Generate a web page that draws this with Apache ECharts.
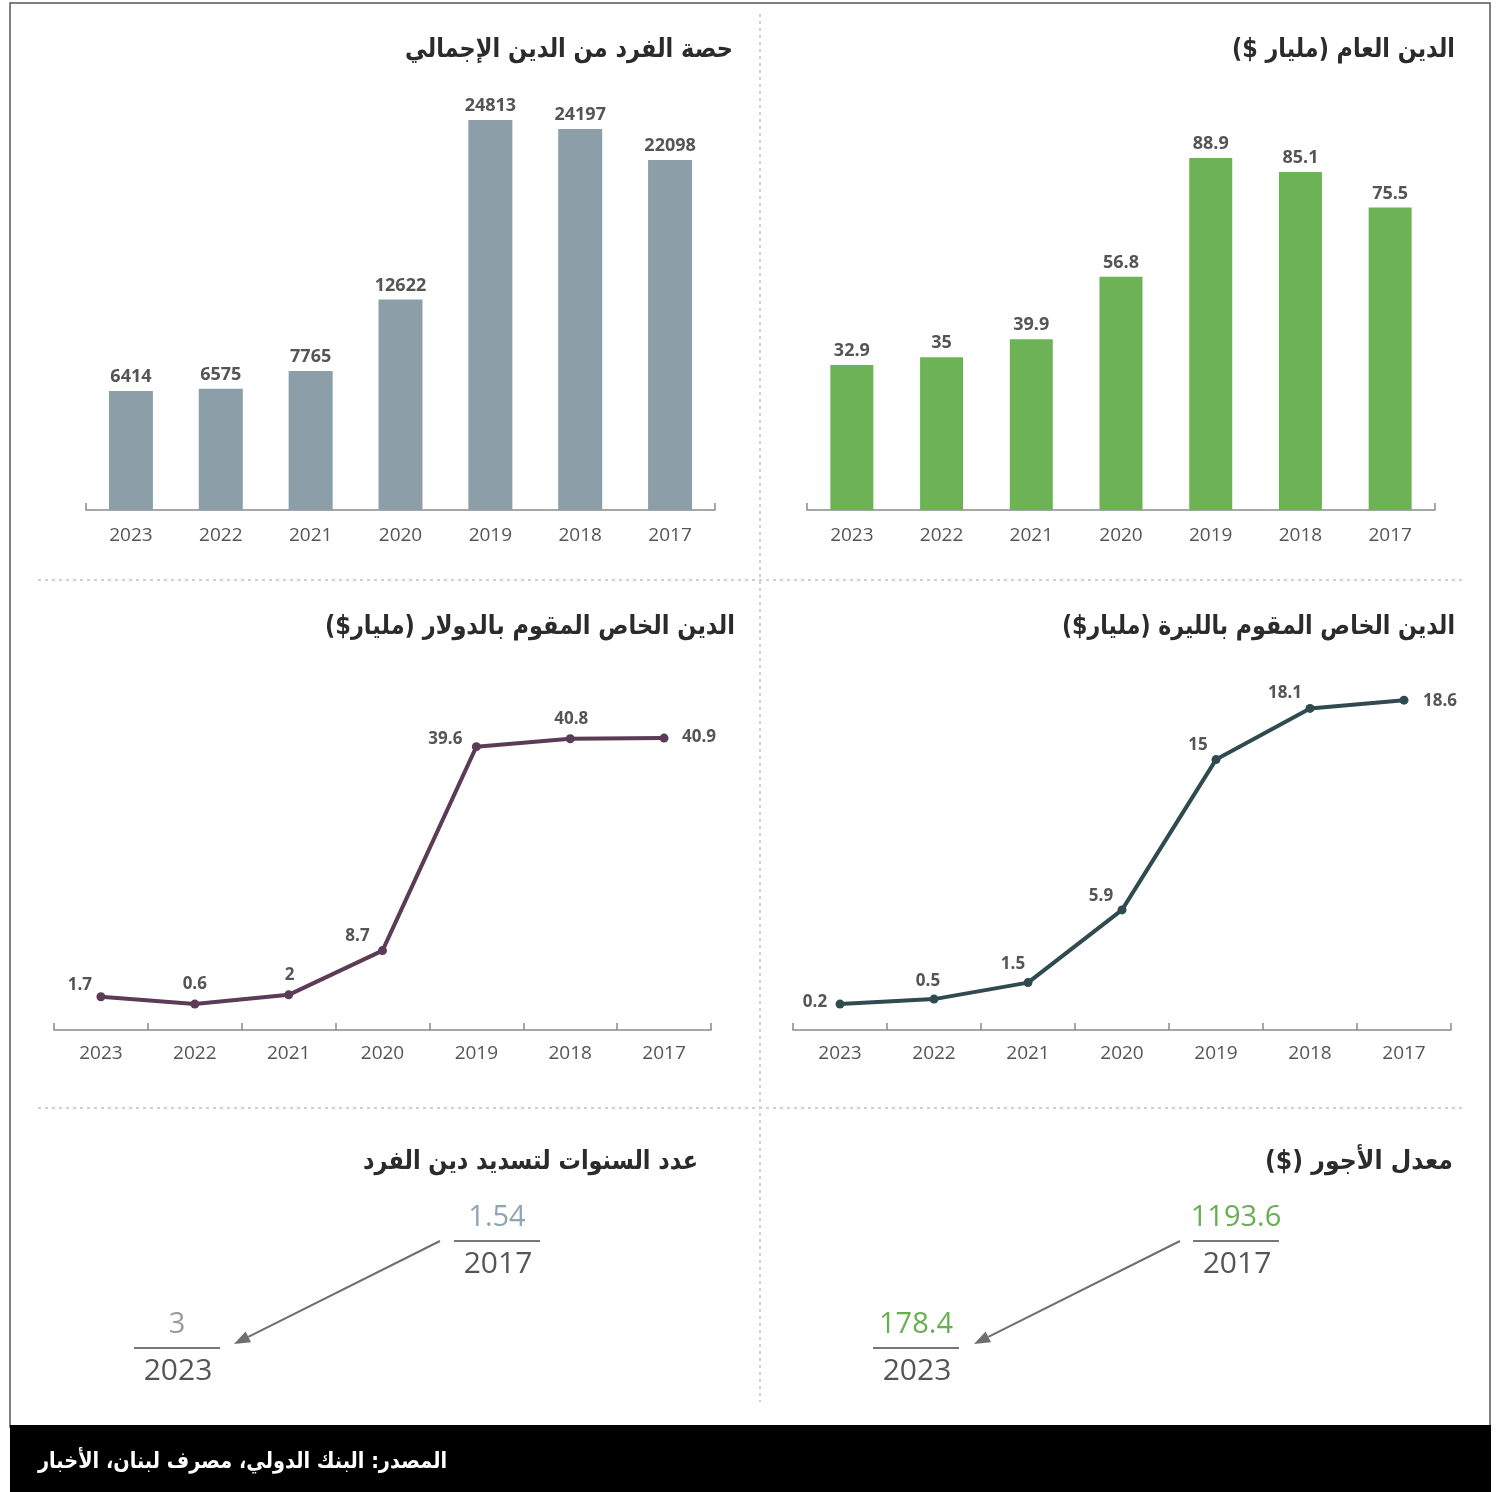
<!DOCTYPE html>
<html>
<head>
<meta charset="utf-8">
<script src="https://cdn.jsdelivr.net/npm/echarts@6/dist/echarts.min.js"></script>
<style>
html,body{margin:0;padding:0;background:#fff;}
#chart{width:1497px;height:1492px;}
</style>
</head>
<body>
<div id="chart"></div>
<script>
// ---------- DATA ----------
const years = ['2023', '2022', '2021', '2020', '2019', '2018', '2017'];
const perCapitaDebt = [6414, 6575, 7765, 12622, 24813, 24197, 22098];
const publicDebt = [32.9, 35, 39.9, 56.8, 88.9, 85.1, 75.5];
const privateDebtUSD = [1.7, 0.6, 2, 8.7, 39.6, 40.8, 40.9];
const privateDebtLBP = [0.2, 0.5, 1.5, 5.9, 15, 18.1, 18.6];
const repayYears = ['2017', '2023'];
const repayValues = [1.54, 3];
const wageYears = ['2017', '2023'];
const wageValues = [1193.6, 178.4];

const titlePerCapita = 'حصة الفرد من الدين الإجمالي';
const titlePublic = 'الدين العام (مليار $)';
const titleUSD = 'الدين الخاص المقوم بالدولار (مليار$)';
const titleLBP = 'الدين الخاص المقوم بالليرة (مليار$)';
const titleRepay = 'عدد السنوات لتسديد دين الفرد';
const titleWage = 'معدل الأجور ($)';
const sourceText = 'المصدر: البنك الدولي، مصرف لبنان، الأخبار';

// ---------- STYLE ----------
const GREEN = '#6db356';
const GREEN_TXT = '#6aae52';
const GRAY_BAR = '#8c9fa9';
const PURPLE = '#5b3b56';
const SLATE = '#2f4b50';
const AXIS = '#8a8a8a';
const TXT = '#555555';
const NUMFONT = '"Open Sans", "Noto Sans", sans-serif';
const ARFONT = '"DejaVu Sans", sans-serif';

// label offsets for line points (style only)
const usdLabelOffsets = [[-21, -12], [0, -20], [1, -20], [-25, -14], [-31, -8], [1, -20], [35, -1]];
const lbpLabelOffsets = [[-25, -2], [-6, -18], [-15, -18], [-21, -14], [-18, -14], [-25, -15], [36, 1]];

const RLM = '\u200F';
const measureCtx = document.createElement('canvas').getContext('2d');
function fitScale(text, font, target) {
  measureCtx.font = font;
  const w = measureCtx.measureText(text).width;
  return w > 0 ? target / w : 1;
}
function arTitle(text, right, cy, targetW, size, color) {
  const t = RLM + text + RLM;
  const font = 'bold ' + size + 'px ' + ARFONT;
  const s = fitScale(t, font, targetW);
  return {
    type: 'text', x: right, y: cy, scaleX: s, z: 10,
    style: {
      text: t, fill: color || '#2b2b2b', font: font,
      fontSize: size, fontFamily: ARFONT, fontWeight: 'bold',
      align: 'right', verticalAlign: 'middle', textAlign: 'right', textVerticalAlign: 'middle'
    }
  };
}
function numText(text, cx, cy, color, size) {
  return {
    type: 'text', x: cx, y: cy, z: 10,
    style: {
      text: String(text), fill: color, fontSize: size, fontFamily: NUMFONT,
      align: 'center', verticalAlign: 'middle', textAlign: 'center', textVerticalAlign: 'middle'
    }
  };
}
function hline(x1, x2, y, color, w, dash) {
  return { type: 'line', shape: { x1: x1, y1: y, x2: x2, y2: y }, z: 1,
    style: { stroke: color, lineWidth: w, lineDash: dash || null } };
}
function vline(x, y1, y2, color, w, dash) {
  return { type: 'line', shape: { x1: x, y1: y1, x2: x, y2: y2 }, z: 1,
    style: { stroke: color, lineWidth: w, lineDash: dash || null } };
}
function arrow(x1, y1, x2, y2) {
  const dx = x2 - x1, dy = y2 - y1, L = Math.sqrt(dx * dx + dy * dy);
  const ux = dx / L, uy = dy / L, px = -uy, py = ux;
  const hl = 16, hw = 6;
  const bx = x2 - ux * hl, by = y2 - uy * hl;
  return [
    { type: 'line', shape: { x1: x1, y1: y1, x2: bx, y2: by }, style: { stroke: '#6e6e6e', lineWidth: 2 } },
    { type: 'polygon', shape: { points: [[x2, y2], [bx + px * hw, by + py * hw], [bx - px * hw, by - py * hw]] },
      style: { fill: '#6e6e6e' } }
  ];
}
function fraction(value, year, cx, cyTop, valueColor) {
  return [
    numText(value, cx, cyTop, valueColor, 29),
    hline(cx - 43, cx + 43, cyTop + 23, '#777', 2),
    numText(year, cx + 1, cyTop + 46, TXT, 30)
  ];
}

function catAxis(gridIndex, allTicks, margin) {
  return {
    type: 'category', gridIndex: gridIndex, data: years, boundaryGap: true,
    axisLine: { show: true, onZero: false, lineStyle: { color: AXIS, width: 1.5 } },
    axisTick: { show: true, inside: true, length: 7, lineStyle: { color: AXIS, width: 1.5 },
      interval: allTicks ? 0 : function (i) { return i === 0; } },
    axisLabel: { color: TXT, fontSize: 19, fontFamily: NUMFONT, margin: margin }
  };
}
function valAxis(gridIndex, min, max) {
  return { type: 'value', gridIndex: gridIndex, min: min, max: max, startValue: min,
    show: false, splitLine: { show: false } };
}

const graphics = [];
// frame
graphics.push({ type: 'rect', shape: { x: 10, y: 3, width: 1480, height: 1424 }, z: 0,
  style: { fill: 'none', stroke: '#555', lineWidth: 1.5 } });
graphics.push({ type: 'rect', shape: { x: 10, y: 1425, width: 1481, height: 67 }, z: 0,
  style: { fill: '#000' } });
// dividers
graphics.push(vline(760, 14, 1402, '#cfcfcf', 2, [3, 4]));
graphics.push(hline(38, 1462, 580, '#cfcfcf', 2, [3, 4]));
graphics.push(hline(38, 1462, 1108, '#cfcfcf', 2, [3, 4]));
// titles
graphics.push(arTitle(titlePerCapita, 733, 50, 328, 26));
graphics.push(arTitle(titlePublic, 1455, 50, 223, 26));
graphics.push(arTitle(titleUSD, 735, 627, 410, 26));
graphics.push(arTitle(titleLBP, 1455, 627, 393, 26));
graphics.push(arTitle(titleRepay, 698, 1162, 335, 26));
graphics.push(arTitle(titleWage, 1453, 1162, 188, 26));
graphics.push(arTitle(sourceText, 447, 1462, 409, 22, '#ffffff'));
// bottom fractions
fraction(repayValues[0], repayYears[0], 497, 1218, '#8ea5b5').forEach(g => graphics.push(g));
fraction(repayValues[1], repayYears[1], 177, 1325, '#9a9a9a').forEach(g => graphics.push(g));
arrow(440, 1241, 234, 1344).forEach(g => graphics.push(g));
fraction(wageValues[0], wageYears[0], 1236, 1218, GREEN_TXT).forEach(g => graphics.push(g));
fraction(wageValues[1], wageYears[1], 916, 1325, GREEN_TXT).forEach(g => graphics.push(g));
arrow(1180, 1241, 974, 1344).forEach(g => graphics.push(g));

const barLabel = { show: true, position: 'top', distance: 5, color: TXT, fontSize: 18,
  fontWeight: 'bold', fontFamily: NUMFONT };

function lineData(values, offsets) {
  return values.map(function (v, i) {
    return { value: v, label: { offset: offsets[i] } };
  });
}

const chart = echarts.init(document.getElementById('chart'), null, { renderer: 'canvas' });
chart.setOption({
  backgroundColor: '#ffffff',
  animation: false,
  grid: [
    { left: 86, top: 100, width: 629, height: 410 },
    { left: 807, top: 100, width: 628, height: 410 },
    { left: 54, top: 680, width: 657, height: 350 },
    { left: 793, top: 680, width: 658, height: 350 }
  ],
  xAxis: [catAxis(0, false, 16), catAxis(1, false, 16), catAxis(2, true, 14), catAxis(3, true, 14)],
  yAxis: [
    valAxis(0, -1663, 26171),
    valAxis(1, -6.33, 104.6),
    valAxis(2, -3.33, 49.7),
    valAxis(3, -1.37, 19.82)
  ],
  series: [
    { type: 'bar', xAxisIndex: 0, yAxisIndex: 0, data: perCapitaDebt, barWidth: 44,
      itemStyle: { color: GRAY_BAR }, label: barLabel },
    { type: 'bar', xAxisIndex: 1, yAxisIndex: 1, data: publicDebt, barWidth: 43,
      itemStyle: { color: GREEN }, label: barLabel },
    { type: 'line', xAxisIndex: 2, yAxisIndex: 2, data: lineData(privateDebtUSD, usdLabelOffsets),
      symbol: 'circle', symbolSize: 9, lineStyle: { color: PURPLE, width: 4 },
      itemStyle: { color: PURPLE },
      label: { show: true, position: 'inside', color: TXT, fontSize: 17, fontWeight: 'bold', fontFamily: NUMFONT } },
    { type: 'line', xAxisIndex: 3, yAxisIndex: 3, data: lineData(privateDebtLBP, lbpLabelOffsets),
      symbol: 'circle', symbolSize: 9, lineStyle: { color: SLATE, width: 4 },
      itemStyle: { color: SLATE },
      label: { show: true, position: 'inside', color: TXT, fontSize: 17, fontWeight: 'bold', fontFamily: NUMFONT } }
  ],
  graphic: { elements: graphics }
});
</script>
</body>
</html>
